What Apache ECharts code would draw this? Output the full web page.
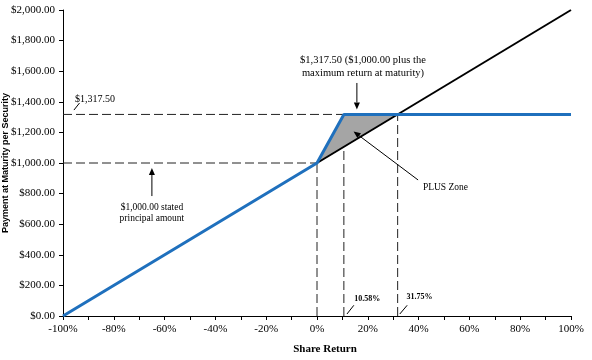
<!DOCTYPE html>
<html><head><meta charset="utf-8">
<script src="https://cdn.jsdelivr.net/npm/echarts@6/dist/echarts.min.js"></script>
<style>html,body{margin:0;padding:0;background:#fff}#c{width:592px;height:360px}</style>
</head><body><div id="c"></div>
<script>
// ---- data ----
const xTicks = [-100, -80, -60, -40, -20, 0, 20, 40, 60, 80, 100];
const yTicks = [0, 200, 400, 600, 800, 1000, 1200, 1400, 1600, 1800, 2000];
const securityPayoff = [[-100, 0], [0, 1000], [10.58, 1317.5], [100, 1317.5]];
const sharePayoff = [[0, 1000], [100, 2000]];
const plusZone = [[0, 1000], [10.58, 1317.5], [31.75, 1317.5]];
const principal = 1000;
const maxPayment = 1317.5;
const leveragedCapReturn = 10.58;
const breakEvenReturn = 31.75;

const dash = {type: [9, 4], color: '#222', width: 1};
function seg(data) {
  return {type: 'line', data: data, symbol: 'none', lineStyle: dash, silent: true, z: 1, animation: false};
}

const chart = echarts.init(document.getElementById('c'));
const serif = '"Liberation Serif","Times New Roman",serif';
chart.setOption({
  animation: false,
  grid: {left: 63, right: 21, top: 10, bottom: 44, containLabel: false, outerBoundsMode: 'none'},
  xAxis: {
    type: 'value', min: -100, max: 100, interval: 20,
    name: 'Share Return', nameLocation: 'middle', nameGap: 28, nameMoveOverlap: false,
    nameTextStyle: {fontFamily: serif, fontWeight: 'bold', fontSize: 11, color: '#000', padding: [0, 0, 0, 16]},
    axisLine: {onZero: false, lineStyle: {color: '#000', width: 1}},
    axisTick: {show: true, length: 4, lineStyle: {color: '#000'}},
    minorTick: {show: true, splitNumber: 2, length: 4, lineStyle: {color: '#000'}},
    splitLine: {show: false},
    axisLabel: {fontFamily: serif, fontSize: 11, color: '#000', margin: 8, formatter: v => v + '%'}
  },
  yAxis: {
    type: 'value', min: 0, max: 2000, interval: 200,
    name: 'Payment at Maturity per Security', nameLocation: 'middle', nameGap: 53, nameMoveOverlap: false,
    nameTextStyle: {fontFamily: '"Liberation Sans",Arial,sans-serif', fontWeight: 'bold', fontSize: 9, color: '#000'},
    axisLine: {show: true, onZero: false, lineStyle: {color: '#000', width: 1}},
    axisTick: {show: true, length: 4, lineStyle: {color: '#000'}},
    splitLine: {show: false},
    axisLabel: {fontFamily: serif, fontSize: 11, color: '#000', margin: 8,
      formatter: v => '$' + v.toLocaleString('en-US', {minimumFractionDigits: 2, maximumFractionDigits: 2})}
  },
  series: [
    seg([[-100, maxPayment], [leveragedCapReturn, maxPayment]]),
    seg([[-100, principal], [0, principal]]),
    seg([[0, 0], [0, principal]]),
    seg([[leveragedCapReturn, 0], [leveragedCapReturn, maxPayment]]),
    seg([[breakEvenReturn, 0], [breakEvenReturn, maxPayment]]),
    {
      type: 'custom', z: 2, silent: true,
      renderItem: function (params, api) {
        const pts = plusZone.map(p => api.coord(p));
        return {type: 'polygon', shape: {points: pts}, style: {fill: '#a5a5a5', stroke: '#555', lineWidth: 0.6}};
      },
      data: [[0, 0]]
    },
    {type: 'line', data: sharePayoff, symbol: 'none', lineStyle: {color: '#000', width: 2}, z: 3},
    {type: 'line', data: securityPayoff, symbol: 'none', lineStyle: {color: '#1f70bd', width: 3}, z: 4}
  ]
});

// annotations (data-space anchored)
const arrows = [
  [[-65, 784], [-65, 968]],
  [[15.7, 1523], [15.7, 1350]],
  [[39.8, 889], [14.4, 1206]]
];
const slashes = [
  [[-95.7, 1346], [-93.5, 1392]],
  [[11.8, 13], [14.5, 70]],
  [[32.6, 13], [35.5, 70]]
];
const labels = [
  {t: '$1,317.50', p: [-95.3, 1418], align: 'left', size: 10, bold: false},
  {t: '$1,317.50 ($1,000.00 plus the', p: [18.1, 1673], align: 'center', size: 10.5, bold: false},
  {t: 'maximum return at maturity)', p: [18.1, 1588], align: 'center', size: 10.5, bold: false},
  {t: '$1,000.00 stated', p: [-65, 706], align: 'center', size: 9.5, bold: false},
  {t: 'principal amount', p: [-65, 634], align: 'center', size: 9.5, bold: false},
  {t: 'PLUS Zone', p: [41.7, 843], align: 'left', size: 9.5, bold: false},
  {t: '10.58%', p: [14.7, 110], align: 'left', size: 8, bold: true},
  {t: '31.75%', p: [35.2, 123], align: 'left', size: 8, bold: true}
];
const px = p => chart.convertToPixel({gridIndex: 0}, p);
const g = [];
arrows.forEach(a => {
  const s = px(a[0]), e = px(a[1]);
  const ang = Math.atan2(e[1] - s[1], e[0] - s[0]);
  const L = 7, W = 3;
  const bx = e[0] - L * Math.cos(ang), by = e[1] - L * Math.sin(ang);
  g.push({type: 'line', shape: {x1: s[0], y1: s[1], x2: bx, y2: by}, style: {stroke: '#000', lineWidth: 1}, z: 10});
  g.push({type: 'polygon', shape: {points: [e, [bx + W * Math.sin(ang), by - W * Math.cos(ang)], [bx - W * Math.sin(ang), by + W * Math.cos(ang)]]}, style: {fill: '#000'}, z: 10});
});
slashes.forEach(a => {
  const s = px(a[0]), e = px(a[1]);
  g.push({type: 'line', shape: {x1: s[0], y1: s[1], x2: e[0], y2: e[1]}, style: {stroke: '#000', lineWidth: 1}, z: 10});
});
labels.forEach(l => {
  const p = px(l.p);
  g.push({type: 'text', x: p[0], y: p[1], z: 10, style: {text: l.t, fill: '#000', font: (l.bold ? 'bold ' : '') + l.size + 'px ' + serif, textAlign: l.align, textVerticalAlign: 'middle'}});
});
chart.setOption({graphic: g});
</script></body></html>
